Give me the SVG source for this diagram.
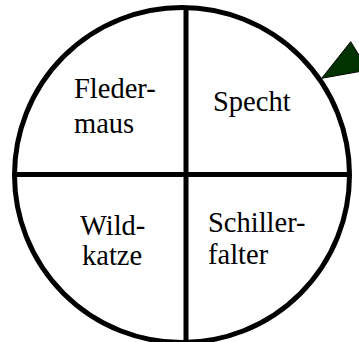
<svg xmlns="http://www.w3.org/2000/svg" width="359" height="342" viewBox="0 0 359 342">
<style>
.lbl{font-family:"Liberation Serif","Times New Roman",serif;font-size:28.5px;fill:#000}
.ln{stroke:#000;stroke-width:5;fill:none}
</style>
<rect width="359" height="342" fill="#fff"/>
<g id="wheel">
<circle class="ln" cx="182" cy="175" r="167.5"/>
</g>
<g id="connectors">
<line class="ln" x1="186" y1="8" x2="186" y2="342"/>
<line class="ln" x1="14" y1="174.5" x2="350" y2="174.5"/>
</g>
<g id="fledermaus"><text class="lbl" x="74" y="98">Fleder-</text><text class="lbl" x="74" y="133">maus</text></g>
<g id="specht"><text class="lbl" x="213" y="111">Specht</text></g>
<g id="wildkatze"><text class="lbl" x="80" y="235">Wild-</text><text class="lbl" x="82" y="265">katze</text></g>
<g id="schillerfalter"><text class="lbl" x="208" y="232">Schiller-</text><text class="lbl" x="208" y="264">falter</text></g>
<g id="pointer"><polygon points="321.7,78.3 350.7,41.7 368,70" fill="#003300" stroke="#000" stroke-width="1"/></g>
</svg>
